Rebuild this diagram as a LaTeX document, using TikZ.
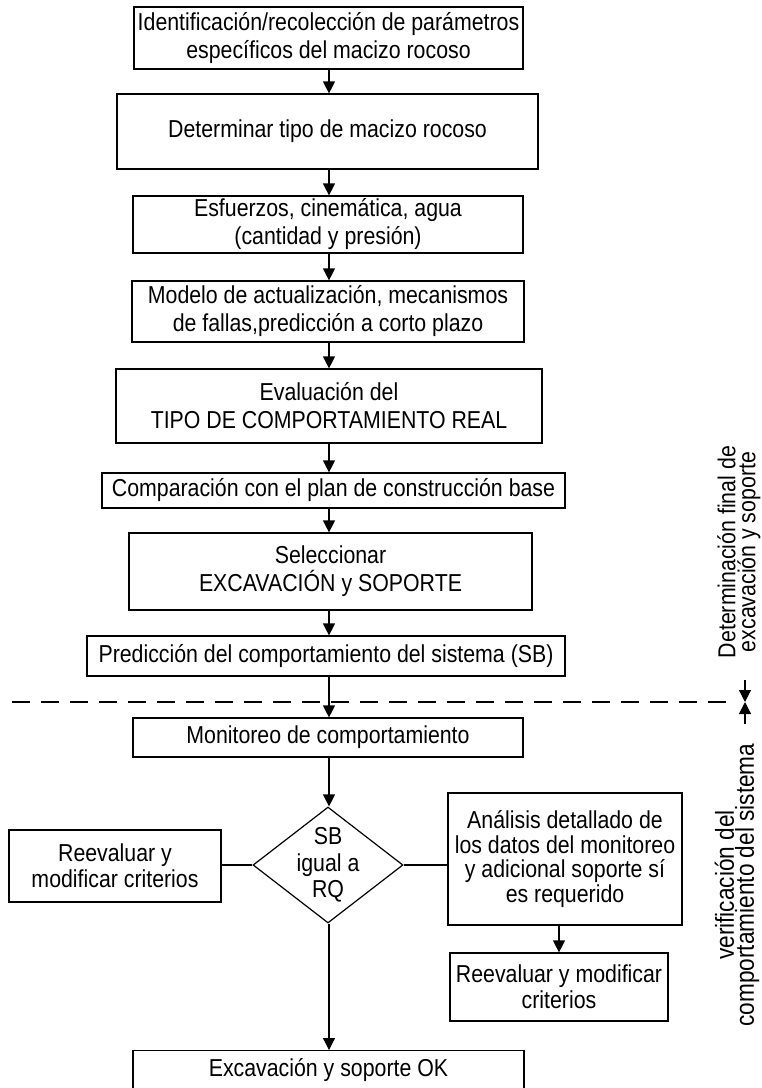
\documentclass[tikz,border=0pt]{standalone}
\usepackage{fontspec}
\setmainfont{Liberation Sans}[FakeStretch=0.87]
\usetikzlibrary{arrows.meta,shapes.geometric}
\begin{document}
\begin{tikzpicture}[x=1pt,y=-1pt,
  font=\fontsize{24.5}{28}\selectfont,
  box/.style={draw, line width=1.2pt, inner sep=0pt, align=center},
  arr/.style={line width=1.2pt, -{Triangle[width=12pt,length=12pt]}},
  link/.style={line width=1.2pt},
  sidetext/.style={rotate=90, align=center, inner sep=0pt}]
\useasboundingbox (0,0) rectangle (762,1088);

% main column
\coordinate (axis) at (329,0);
\node[box, minimum width=389pt, minimum height=62pt] (b1) at (328.5,38)
  {Identificación/recolección de parámetros\\específicos del macizo rocoso};
\node[box, minimum width=421pt, minimum height=75pt] (b2) at (327.5,131.5)
  {Determinar tipo de macizo rocoso};
\node[box, minimum width=390pt, minimum height=57pt] (b3) at (328,224.5)
  {Esfuerzos, cinemática, agua\\(cantidad y presión)};
\node[box, minimum width=392pt, minimum height=61pt] (b4) at (328,311.5)
  {Modelo de actualización, mecanismos\\de fallas,predicción a corto plazo};
\node[box, minimum width=426pt, minimum height=74pt] (b5) at (329,406)
  {Evaluación del\\TIPO DE COMPORTAMIENTO REAL};
\node[box, minimum width=463pt, minimum height=35pt] (b6) at (333.5,490.5)
  {Comparación con el plan de construcción base};
\node[box, minimum width=403pt, minimum height=77pt] (b7) at (330.5,571.5)
  {Seleccionar\\EXCAVACIÓN y SOPORTE};
\node[box, minimum width=478pt, minimum height=40pt] (b8) at (326,656)
  {Predicción del comportamiento del sistema (SB)};
\node[box, minimum width=390pt, minimum height=39pt] (b9) at (328,737.5)
  {Monitoreo de comportamiento};

% decision
\node[draw, line width=1.2pt, diamond, inner sep=0pt, minimum width=150pt, minimum height=116pt,
  label={[align=center, font=\fontsize{24.5}{26.5}\selectfont]center:SB\\igual a\\RQ}] (dia) at (328,865) {};
\node[box, minimum width=212pt, minimum height=72pt, font=\fontsize{24.5}{26}\selectfont] (left) at (115,866)
  {Reevaluar y\\modificar criterios};
\node[box, minimum width=234pt, minimum height=132pt, font=\fontsize{24.5}{24.5}\selectfont] (right) at (565,859)
  {Análisis detallado de\\los datos del monitoreo\\y adicional soporte sí\\es requerido};
\node[box, minimum width=218pt, minimum height=68pt, font=\fontsize{24.5}{26}\selectfont] (right2) at (559,987)
  {Reevaluar y modificar\\criterios};
\node[box, anchor=north, minimum width=391pt, minimum height=44pt, text height=17.5pt, text depth=10pt] (ok) at (328.5,1050)
  {Excavación y soporte OK};

% connectors
\draw[arr] (b1.south -| axis) -- (b2.north -| axis);
\draw[arr] (b2.south -| axis) -- (b3.north -| axis);
\draw[arr] (b3.south -| axis) -- (b4.north -| axis);
\draw[arr] (b4.south -| axis) -- (b5.north -| axis);
\draw[arr] (b5.south -| axis) -- (b6.north -| axis);
\draw[arr] (b6.south -| axis) -- (b7.north -| axis);
\draw[arr] (b7.south -| axis) -- (b8.north -| axis);
\draw[arr] (b8.south -| axis) -- (b9.north -| axis);
\draw[arr] (b9.south -| axis) -- (dia.north -| axis);
\draw[arr] (dia.south -| axis) -- (ok.north -| axis);
\draw[link] (dia.west) -- (dia.west -| left.east);
\draw[link] (dia.east) -- (dia.east -| right.west);
\draw[arr] (right.south -| right2) -- (right2.north);

% phase boundary
\coordinate (dashL) at (12,702);
\coordinate (dashR) at (737,702);
\draw[line width=1.2pt, dash pattern=on 18pt off 11pt] (dashL) -- (dashR);
\coordinate (mark) at (745,702);
\coordinate (markTop) at (745,680);
\coordinate (markBot) at (745,724);
\draw[arr] (markTop) -- (mark);
\draw[arr] (markBot) -- (mark);

\node[sidetext, font=\fontsize{24.5}{20}\selectfont] (upper) at (739,552)
  {Determinación final de\\excavación y soporte};
\node[sidetext, font=\fontsize{26}{20}\selectfont] (lower) at (737,885)
  {verificación del\\comportamiento del sistema};
\end{tikzpicture}
\end{document}
